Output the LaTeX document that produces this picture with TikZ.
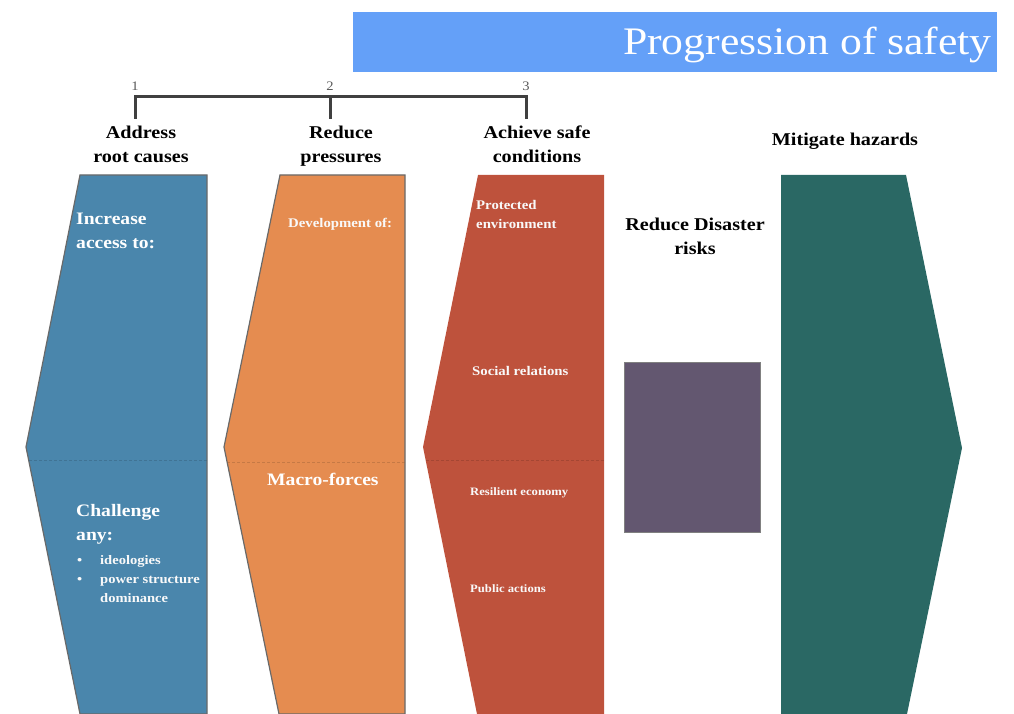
\documentclass[tikz,border=0pt]{standalone}
\usepackage{fontspec}
\setmainfont{Liberation Serif}[FakeStretch=1.12]
\definecolor{titleblue}{RGB}{100,160,248}
\definecolor{cblue}{RGB}{74,134,172}
\definecolor{corange}{RGB}{229,140,80}
\definecolor{cred}{RGB}{190,82,60}
\definecolor{cteal}{RGB}{42,104,100}
\definecolor{cpurple}{RGB}{99,87,112}
\definecolor{edgegray}{RGB}{105,105,105}
\definecolor{bracketgray}{RGB}{64,64,64}
\definecolor{numgray}{RGB}{90,90,90}
\begin{document}
\begin{tikzpicture}[x=1pt,y=-1pt,
  heading/.style={font=\fontsize{18}{20}\selectfont\bfseries, text=black, inner sep=0pt, anchor=base},
  numlabel/.style={font=\fontsize{13}{14}\selectfont, text=numgray, inner sep=0pt, anchor=base},
  bigwhite/.style={font=\fontsize{17.5}{20}\selectfont\bfseries, text=white, inner sep=0pt, anchor=base west},
  smallwhite/.style={font=\fontsize{13.2}{14}\selectfont\bfseries, text=white!95!gray, inner sep=0pt, anchor=base west},
  tinywhite/.style={font=\fontsize{11.3}{13}\selectfont\bfseries, text=white!95!gray, inner sep=0pt, anchor=base west},
  bulletwhite/.style={font=\fontsize{13}{15}\selectfont\bfseries, text=white!95!gray, inner sep=0pt, anchor=base west},
  seam/.style={dash pattern=on 3pt off 2pt, line width=0.6pt, opacity=0.45},
  bracket/.style={draw=bracketgray, line width=3pt},
]
\useasboundingbox (0,0) rectangle (1014,714);

% title bar
\fill[titleblue] (353,12) rectangle (997,72);
\node[font=\fontsize{39}{42}\selectfont, text=white, inner sep=0pt, anchor=base east] (title) at (992,55) {Progression of safety};

% numbers and bracket
\node[numlabel] (n1) at (135,91) {1};
\node[numlabel] (n2) at (330,91) {2};
\node[numlabel] (n3) at (526,91) {3};
\coordinate (t1) at (135,97);
\coordinate (t2) at (330,97);
\coordinate (t3) at (526,97);
\coordinate (b1) at (135,119);
\coordinate (b2) at (330,119);
\coordinate (b3) at (526,119);
\draw[bracket] (b1) -- (t1) -- (t3) -- (b3);
\draw[bracket] (t2) -- (b2);

% headings
\node[heading] (h1a) at (141,139) {Address};
\node[heading] (h1b) at (141,163) {root causes};
\node[heading] (h2a) at (341,139) {Reduce};
\node[heading] (h2b) at (341,163) {pressures};
\node[heading] (h3a) at (537,139) {Achieve safe};
\node[heading] (h3b) at (537,163) {conditions};
\node[heading] (h5) at (845,146) {Mitigate hazards};
\node[heading] (h4a) at (695,230) {Reduce Disaster};
\node[heading] (h4b) at (695,254) {risks};

% blue shape
\filldraw[fill=cblue, draw=edgegray, line width=1.2pt]
  (80,175) -- (207,175) -- (207,714) -- (80,714) -- (26,447) -- cycle;
\draw[seam, draw=cblue!70!black] (29,460) -- (207,460);
% orange shape
\filldraw[fill=corange, draw=edgegray, line width=1.2pt]
  (280,175) -- (405,175) -- (405,714) -- (279,714) -- (224,447) -- cycle;
\draw[seam, draw=corange!70!black] (227,462) -- (405,462);
% red shape
\fill[cred] (478,175) -- (604,175) -- (604,714) -- (477,714) -- (423,447) -- cycle;
\draw[seam, draw=cred!70!black] (426,460) -- (604,460);
% purple box
\filldraw[fill=cpurple, draw=gray, line width=0.8pt] (624,362) rectangle (760,532);
% teal arrow
\fill[cteal] (781,175) -- (906,175) -- (962,448) -- (907,714) -- (781,714) -- cycle;

% blue texts
\node[bigwhite] (inc1) at (76,225) {Increase};
\node[bigwhite] (inc2) at (76,248) {access to:};
\node[bigwhite] (ch1) at (76,516) {Challenge};
\node[bigwhite] (ch2) at (76,540) {any:};
\node[bulletwhite] (bl1) at (77,564) {•};
\node[bulletwhite] (bt1) at (100,564) {ideologies};
\node[bulletwhite] (bl2) at (77,583) {•};
\node[bulletwhite] (bt2) at (100,583) {power structure};
\node[bulletwhite] (bt3) at (100,602) {dominance};

% orange texts
\node[smallwhite] (dev) at (288,227) {Development of:};
\node[bigwhite] (macro) at (267,485) {Macro-forces};

% red texts
\node[smallwhite] (prot1) at (476,210) {Protected};
\node[smallwhite] (prot2) at (476,229) {environment};
\node[smallwhite] (soc) at (472,375) {Social relations};
\node[tinywhite] (res) at (470,495) {Resilient economy};
\node[tinywhite] (pub) at (470,592) {Public actions};
\end{tikzpicture}
\end{document}
